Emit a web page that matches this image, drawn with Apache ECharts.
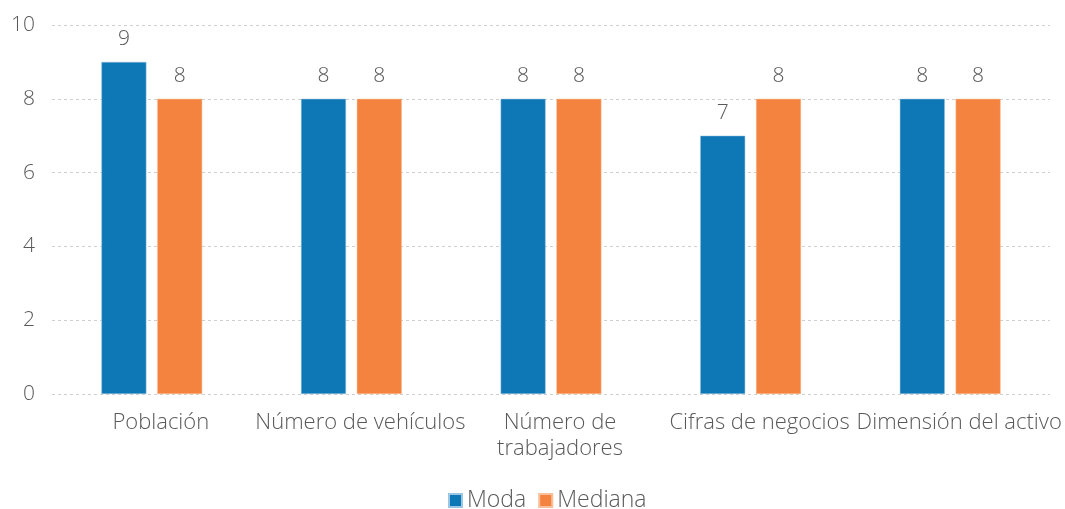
<!DOCTYPE html>
<html>
<head>
<meta charset="utf-8">
<script src="https://cdn.jsdelivr.net/npm/echarts@6/dist/echarts.min.js"></script>
<style>
  html, body { margin: 0; padding: 0; background: #fff; }
  #chart { width: 1065px; height: 509px; }
</style>
</head>
<body>
<div id="chart"></div>
<script>
// Categories and values
const categories = ['Población', 'Número de vehículos', 'Número de\ntrabajadores', 'Cifras de negocios', 'Dimensión del activo'];
const moda = [9, 8, 8, 7, 8];
const mediana = [8, 8, 8, 8, 8];
const yTicks = { min: 0, max: 10, interval: 2 };

const textColor = '#595959';
const fontFamily = '"Open Sans", Lato, sans-serif';

const chart = echarts.init(document.getElementById('chart'), null, { renderer: 'canvas' });

const labelStyle = {
  show: true,
  position: 'top',
  distance: 12,
  color: textColor,
  fontSize: 21,
  fontFamily: fontFamily,
  fontWeight: 300
};

chart.setOption({
  animation: false,
  textStyle: { fontFamily: fontFamily },
  grid: { left: 52, right: 15, top: 25, bottom: 115, containLabel: false },
  legend: {
    top: 484,
    left: 443,
    itemWidth: 13,
    itemHeight: 13,
    itemGap: 12,
    icon: 'rect',
    textStyle: { color: textColor, fontSize: 23, fontWeight: 300, fontFamily: fontFamily },
    data: ['Moda', 'Mediana']
  },
  xAxis: {
    type: 'category',
    data: categories,
    axisLine: { show: false },
    axisTick: { show: false },
    axisLabel: {
      color: textColor,
      fontSize: 22,
      fontWeight: 300,
      fontFamily: fontFamily,
      margin: 16,
      lineHeight: 26,
      padding: [0, 0, 0, 18],
      interval: 0
    }
  },
  yAxis: {
    type: 'value',
    min: yTicks.min,
    max: yTicks.max,
    interval: yTicks.interval,
    axisLine: { show: false },
    axisTick: { show: false },
    axisLabel: {
      color: textColor,
      fontSize: 21,
      fontWeight: 300,
      fontFamily: fontFamily,
      margin: 17
    },
    splitLine: { lineStyle: { color: '#cfcfcf', type: [3, 3], width: 1 } }
  },
  series: [
    {
      name: 'Moda',
      type: 'bar',
      data: moda,
      barWidth: 45,
      barGap: '24%',
      itemStyle: { color: '#0E77B5', borderColor: '#9cc6e2', borderWidth: 0.5 },
      label: labelStyle
    },
    {
      name: 'Mediana',
      type: 'bar',
      data: mediana,
      barWidth: 45,
      itemStyle: { color: '#F4833F', borderColor: '#f8bf9b', borderWidth: 0.5 },
      label: labelStyle
    }
  ]
});
</script>
</body>
</html>
